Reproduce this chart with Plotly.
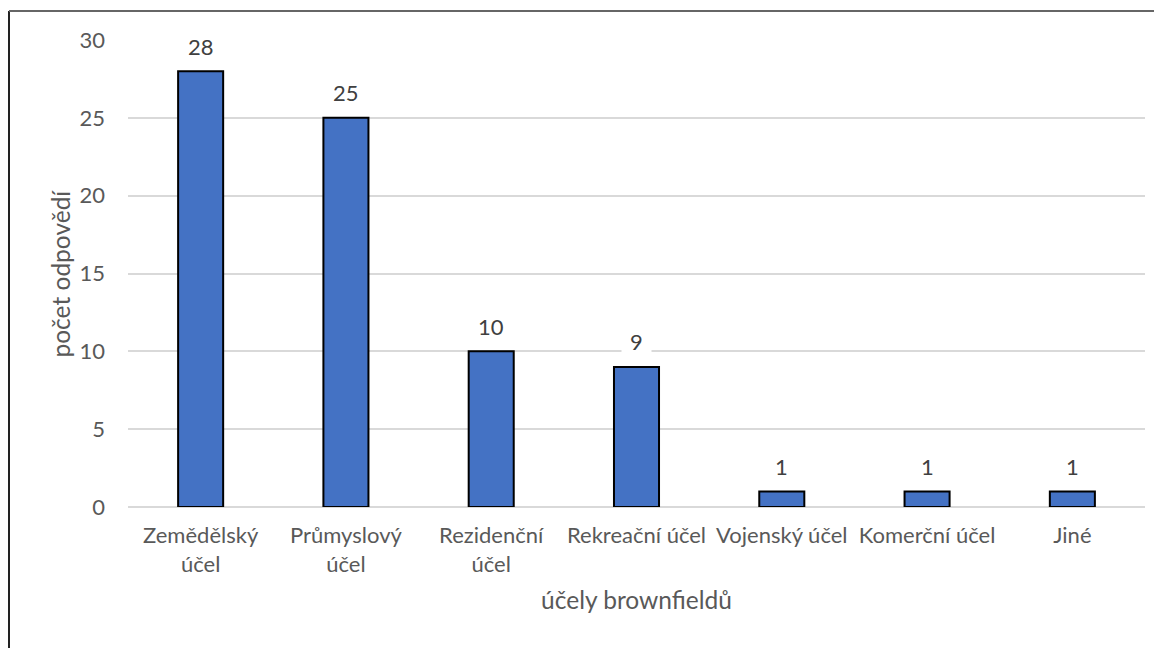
import plotly.graph_objects as go

categories = ["Zemědělský<br>účel", "Průmyslový<br>účel", "Rezidenční<br>účel",
              "Rekreační účel", "Vojenský účel", "Komerční účel", "Jiné"]
values = [28, 25, 10, 9, 1, 1, 1]
y_ticks = [0, 5, 10, 15, 20, 25, 30]
x_title = "účely brownfieldů"
y_title = "počet odpovědí"

FONT = "Lato"
GRAY = "#595959"

W, H = 1154, 640
L, R, T, B = 120, 17, 32, 141
PW, PH = W - L - R, H - T - B

fig = go.Figure()
fig.add_trace(go.Bar(
    x=categories, y=values,
    marker=dict(color="#4472C4", line=dict(color="#000000", width=2)),
    width=0.31,
    hoverinfo="skip",
))

for c, v in zip(categories, values):
    fig.add_annotation(
        x=c, y=v, xref="x", yref="y",
        text=str(v), showarrow=False,
        yanchor="middle", yshift=25,
        bgcolor="white", borderpad=8,
        font=dict(family=FONT, size=22, color="#404040"),
    )

# y-axis title
fig.add_annotation(
    xref="paper", yref="paper", x=(52 - L) / PW, y=0.5,
    text=y_title, textangle=-90, showarrow=False,
    xanchor="center", yanchor="middle",
    font=dict(family=FONT, size=24.5, color=GRAY),
)

# chart area border (left and top edges visible)
bx = (1 - L) / PW
by = 1 + (T - 3) / PH
fig.add_shape(type="line", xref="paper", yref="paper",
              x0=bx, x1=bx, y0=by, y1=-0.5,
              line=dict(color="#222222", width=2))
fig.add_shape(type="line", xref="paper", yref="paper",
              x0=bx, x1=1.2, y0=by, y1=by,
              line=dict(color="#666666", width=2))

fig.update_layout(
    width=W, height=H,
    margin=dict(l=L, r=R, t=T, b=B),
    paper_bgcolor="white", plot_bgcolor="white",
    showlegend=False,
    font=dict(family=FONT, size=22, color=GRAY),
    xaxis=dict(
        showgrid=False, showline=False, ticks="",
        ticklabelstandoff=13,
        tickfont=dict(family=FONT, size=22, color=GRAY),
        title=dict(text=x_title, standoff=16,
                   font=dict(family=FONT, size=24.5, color=GRAY)),
        fixedrange=True,
    ),
    yaxis=dict(
        range=[0, 30], tickvals=y_ticks,
        showgrid=True, gridcolor="#d9d9d9", gridwidth=2,
        zeroline=True, zerolinecolor="#d9d9d9", zerolinewidth=2,
        showline=False, ticks="",
        ticklabelstandoff=22,
        tickfont=dict(family=FONT, size=22, color=GRAY),
        fixedrange=True,
    ),
)

fig.write_html("out.html")
